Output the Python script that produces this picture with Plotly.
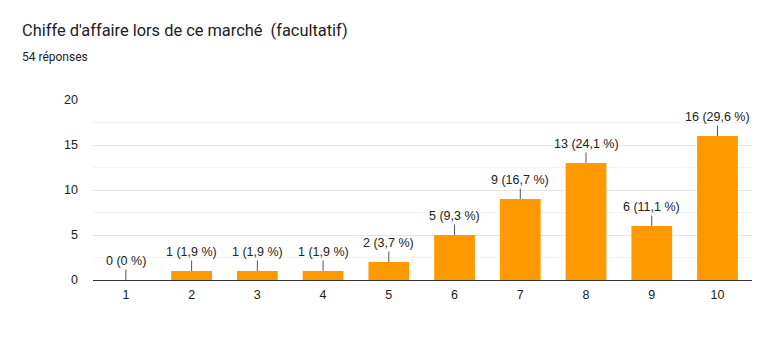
import plotly.graph_objects as go

categories = ["1", "2", "3", "4", "5", "6", "7", "8", "9", "10"]
counts = [0, 1, 1, 1, 2, 5, 9, 13, 6, 16]
labels = ["0 (0 %)", "1 (1,9 %)", "1 (1,9 %)", "1 (1,9 %)", "2 (3,7 %)",
          "5 (9,3 %)", "9 (16,7 %)", "13 (24,1 %)", "6 (11,1 %)", "16 (29,6 %)"]
y_ticks = [0, 5, 10, 15, 20]

fig = go.Figure()
fig.add_trace(go.Bar(x=categories, y=counts, marker=dict(color="#ff9900", line=dict(width=0)),
                     hoverinfo="skip"))

for i, (v, t) in enumerate(zip(counts, labels)):
    fig.add_annotation(x=i, y=v, text=t, showarrow=True, arrowhead=0, arrowwidth=1,
                       arrowcolor="#555", ax=0, ay=-19, standoff=0,
                       font=dict(family="Liberation Sans, Arial", size=12.5, color="#222"))

fig.update_layout(
    width=762, height=351,
    margin=dict(l=93, r=10, t=100, b=71),
    paper_bgcolor="white", plot_bgcolor="white",
    bargap=0.38, showlegend=False,
    font=dict(family="Liberation Sans, Arial", size=12, color="#444"),
    xaxis=dict(type="category", showgrid=False, ticks="", showline=True,
               linecolor="#333", linewidth=1, ticklabelstandoff=3,
               tickfont=dict(size=12.5, color="#222")),
    yaxis=dict(range=[0, 20], tickvals=y_ticks, showgrid=True, gridcolor="#e6e6e6",
               zeroline=False, showline=False, ticks="", ticklabelstandoff=14,
               tickfont=dict(size=12.5, color="#222"),
               minor=dict(dtick=2.5, showgrid=True, gridcolor="#f3f3f3")),
)
fig.add_annotation(xref="paper", yref="paper", x=(20 - 93) / 659, y=1 + 70 / 180,
                   xanchor="left", yanchor="middle",
                   text="Chiffe d'affaire lors de ce marché  (facultatif)", showarrow=False,
                   font=dict(family="Roboto", size=16.4, color="#202124"))
fig.add_annotation(xref="paper", yref="paper", x=(20 - 93) / 659, y=1 + 43 / 180,
                   xanchor="left", yanchor="middle",
                   text="54 réponses", showarrow=False,
                   font=dict(family="Roboto", size=12, color="#202124"))

fig.write_html("out.html")
